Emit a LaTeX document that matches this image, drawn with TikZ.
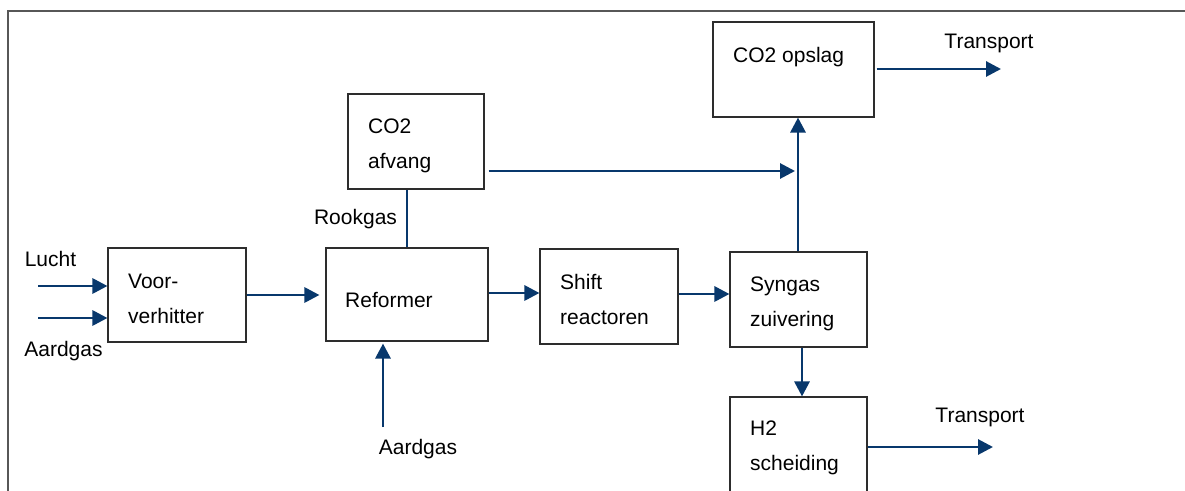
\documentclass[tikz,border=0pt]{standalone}
\usepackage{fontspec}
\setmainfont{Liberation Sans}
\usetikzlibrary{arrows.meta,calc}
\definecolor{flow}{RGB}{8,56,108}
\definecolor{edge}{RGB}{45,45,45}
\tikzset{
  box/.style={draw=edge,line width=1.1pt,rectangle,inner sep=0pt},
  txt/.style={anchor=west,align=left,inner sep=0pt,font=\fontsize{21}{35}\selectfont},
  lbl/.style={inner sep=0pt,font=\fontsize{21}{35}\selectfont},
  arr/.style={draw=flow,line width=2.9pt,-{Triangle[length=15pt,width=15pt]}},
  pipe/.style={draw=flow,line width=2.9pt}
}
\begin{document}
\begin{tikzpicture}[x=1pt,y=1pt]
\clip (0,0) rectangle (1185,490);
\fill[white] (0,0) rectangle (1185,490);
% frame
\draw[draw=edge!80,line width=1.1pt] (8,-2) -- (8,479) -- (1190,479);
% boxes
\node[box,minimum width=138pt,minimum height=94pt] (vv) at (177,195) {};
\node[box,minimum width=162pt,minimum height=93pt] (ref) at (407,195.5) {};
\node[box,minimum width=136pt,minimum height=95pt] (afv) at (416,348.5) {};
\node[box,minimum width=138pt,minimum height=95pt] (shift) at (609,193.5) {};
\node[box,minimum width=137pt,minimum height=95pt] (syn) at (798.5,190.5) {};
\node[box,minimum width=161pt,minimum height=95pt] (ops) at (793.5,420.5) {};
\node[box,minimum width=137pt,minimum height=100pt] (h2) at (798.5,43) {};
% box texts
\node[txt] (tvv) at (128,191.5) {Voor-\\verhitter};
\node[txt] (tref) at (345,190) {Reformer};
\node[txt] (tafv) at (368,344) {CO2\\afvang};
\node[txt] (tshift) at (560,190.5) {Shift\\reactoren};
\node[txt] (tsyn) at (750,186) {Syngas\\zuivering};
\node[txt] (tops) at (733,433) {CO2 opslag};
\node[txt] (th2) at (750,42) {H2\\scheiding};
% free labels
\node[lbl] (llucht) at (50.5,231) {Lucht};
\node[lbl] (laard1) at (63.5,139) {Aardgas};
\node[lbl] (lrook) at (355.5,271) {Rookgas};
\node[lbl] (laard2) at (418,41) {Aardgas};
\node[lbl] (ltr1) at (989,447) {Transport};
\node[lbl] (ltr2) at (980,73) {Transport};
% free ends
\coordinate (inL) at (38,204);
\coordinate (inA) at (38,172);
\coordinate (inB) at (383,63);
\coordinate (j) at (798,319);
\coordinate (t1) at (1001,421);
\coordinate (t2) at (993,43);
% connectors
\draw[arr] (inL) -- (inL -| vv.west);
\draw[arr] (inA) -- (inA -| vv.west);
\draw[arr,shorten >=6pt] (vv.east) -- (vv.east -| ref.west);
\draw[arr] ([yshift=1.5pt]ref.east) -- ([yshift=1.5pt]ref.east -| shift.west);
\draw[arr] ([yshift=2.5pt]shift.east) -- ([yshift=2.5pt]shift.east -| syn.west);
\draw[pipe] (ref.north) -- (ref.north |- afv.south);
\draw[arr,shorten >=2pt] (inB) -- (inB |- ref.south);
\draw[arr,shorten <=4pt,shorten >=3pt] (afv.east |- j) -- (j);
\draw[arr] ([xshift=-0.5pt]syn.north) -- ([xshift=-0.5pt]syn.north |- ops.south);
\draw[arr] ([xshift=3.5pt]syn.south) -- ([xshift=3.5pt]h2.north);
\draw[arr,shorten <=2pt] (ops.east |- t1) -- (t1);
\draw[arr] (h2.east |- t2) -- (t2);
\end{tikzpicture}
\end{document}
